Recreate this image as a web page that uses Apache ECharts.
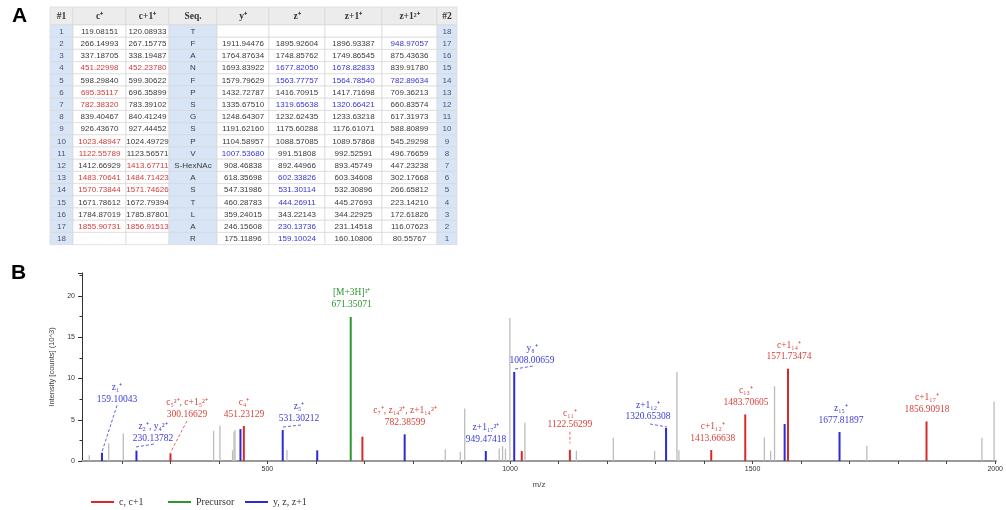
<!DOCTYPE html>
<html><head><meta charset="utf-8">
<script src="https://cdn.jsdelivr.net/npm/echarts@6/dist/echarts.min.js"></script>
<style>html,body{margin:0;padding:0;background:#fff}#c{width:1006px;height:510px}</style>
</head><body><div id="c"></div>
<script>
// ================= Panel A: fragment table =================
const headers = ['#1','c\u207A','c+1\u207A','Seq.','y\u207A','z\u207A','z+1\u207A','z+1\u00B2\u207A','#2'];
const rowNo1 = [1,2,3,4,5,6,7,8,9,10,11,12,13,14,15,16,17,18];
const seq = ['T','F','A','N','F','P','S','G','S','P','V','S-HexNAc','A','S','T','L','A','R'];
const cIons = ['119.08151','266.14993','337.18705','451.22998','598.29840','695.35117','782.38320','839.40467','926.43670','1023.48947','1122.55789','1412.66929','1483.70641','1570.73844','1671.78612','1784.87019','1855.90731',''];
const c1Ions = ['120.08933','267.15775','338.19487','452.23780','599.30622','696.35899','783.39102','840.41249','927.44452','1024.49729','1123.56571','1413.67711','1484.71423','1571.74626','1672.79394','1785.87801','1856.91513',''];
const yIons = ['','1911.94476','1764.87634','1693.83922','1579.79629','1432.72787','1335.67510','1248.64307','1191.62160','1104.58957','1007.53680','908.46838','618.35698','547.31986','460.28783','359.24015','246.15608','175.11896'];
const zIons = ['','1895.92604','1748.85762','1677.82050','1563.77757','1416.70915','1319.65638','1232.62435','1175.60288','1088.57085','991.51808','892.44966','602.33826','531.30114','444.26911','343.22143','230.13736','159.10024'];
const z1Ions = ['','1896.93387','1749.86545','1678.82833','1564.78540','1417.71698','1320.66421','1233.63218','1176.61071','1089.57868','992.52591','893.45749','603.34608','532.30896','445.27693','344.22925','231.14518','160.10806'];
const z12Ions = ['','948.97057','875.43636','839.91780','782.89634','709.36213','660.83574','617.31973','588.80899','545.29298','496.76659','447.23238','302.17668','266.65812','223.14210','172.61826','116.07623','80.55767'];
const rowNo2 = [18,17,16,15,14,13,12,11,10,9,8,7,6,5,4,3,2,1];
// rows (1-based) whose ion was matched in the spectrum
const cMatch = [4,6,7,10,11,13,14,17];
const c1Match = [4,12,13,14,17];
const yMatch = [11];
const zMatch = [4,5,7,13,14,15,17,18];
const z1Match = [4,5,7];
const z12Match = [2,5];

// ================= Panel B: spectrum =================
const otherPeaks = [[133,0.7],[173,2.14],[203,3.35],[389,3.67],[402,4.28],[428,1.3],[431,3.55],[433,3.75],[540,1.33],[866,1.41],[897,1.13],[906,6.38],[977,1.53],[984,1.8],[990,1.5],[999,17.35],[1030,4.64],[1136,1.25],[1212,2.82],[1297,1.21],[1343,10.8],[1347,1.3],[1523,2.86],[1536,1.25],[1544,9.08],[1734,1.82],[1971,2.82],[1996,7.18]];
const cPeaks = [[300.17,0.93],[451.23,4.24],[695.35,2.95],[1023.49,1.2],[1122.56,1.35],[1413.67,1.33],[1483.71,5.65],[1571.73,11.2],[1856.91,4.8]];
const precursorPeaks = [[671.35,17.47]];
const yzPeaks = [[159.10,1.0],[230.14,1.25],[444.27,3.87],[531.30,3.75],[602.34,1.29],[782.39,3.23],[949.47,1.21],[1008.01,10.8],[1320.65,4.0],[1564.79,4.48],[1677.82,3.51]];

const annoText = [
 'z\u2081\u207A\n159.10043',
 'z\u2082\u207A, y\u2084\u00B2\u207A\n230.13782',
 'c\u2085\u00B2\u207A, c+1\u2085\u00B2\u207A\n300.16629',
 'c\u2084\u207A\n451.23129',
 'z\u2085\u207A\n531.30212',
 '[M+3H]\u00B3\u207A\n671.35071',
 'c\u2087\u207A, z\u2081\u2084\u00B2\u207A, z+1\u2081\u2084\u00B2\u207A\n782.38599',
 'z+1\u2081\u2087\u00B2\u207A\n949.47418',
 'y\u2088\u207A\n1008.00659',
 'c\u2081\u2081\u207A\n1122.56299',
 'z+1\u2081\u2082\u207A\n1320.65308',
 'c+1\u2081\u2082\u207A\n1413.66638',
 'c\u2081\u2083\u207A\n1483.70605',
 'c+1\u2081\u2084\u207A\n1571.73474',
 'z\u2081\u2085\u207A\n1677.81897',
 'c+1\u2081\u2087\u207A\n1856.90918'
];
const annoGroup = ['y','y','c','c','y','p','c','y','y','c','y','c','c','c','y','c'];

// ---------- layout (positions / styles) ----------
const colW = [23,53,43,48,52,56,57,55,20];
const headerH = 18, rowH = 12.2;
const annoPos = [[190.1,8.19],[264.2,3.46],[334.2,6.37],[451.6,6.37],[564.8,5.88],[673.3,19.7],[783.1,5.40],[949.9,3.33],[1044.6,12.92],[1122.8,5.09],[1283.4,6.04],[1416.7,3.48],[1485.2,7.82],[1573.8,13.34],[1680.8,5.64],[1857.9,6.97]];
const leaders = [
 {g:'y', p:[190.1,6.75,159.1,1.1]},
 {g:'y', p:[229.2,1.70,266.3,2.06]},
 {g:'c', p:[334.2,4.85,300.2,1.05]},
 {g:'y', p:[531.9,4.12,569.0,4.37]},
 {g:'y', p:[1009.6,11.16,1046.7,11.52]},
 {g:'c', p:[1122.6,3.55,1122.6,2.15]},
 {g:'y', p:[1287.6,4.49,1322.6,4.12]}
];
const RED = '#d62a2a', GREEN = '#2e962e', BLUE = '#2a2ad6', GRAY = '#bcbcbc';
const TXT = {c:'#d8423a', p:'#2f952f', y:'#3a3ad8'};

// ---------- build table cells ----------
const columns = [rowNo1,cIons,c1Ions,seq,yIons,zIons,z1Ions,z12Ions,rowNo2];
const matches = [null,cMatch,c1Match,null,yMatch,zMatch,z1Match,z12Match,null];
const matchCol = [null,'#d43a3a','#d43a3a',null,'#3434d4','#3434d4','#3434d4','#3434d4',null];
const colStart = [0]; colW.forEach((w,i)=>colStart.push(colStart[i]+w));
const rowStart = [0, headerH]; for (let i=1;i<=18;i++) rowStart.push(headerH + i*rowH);
const cellData = [], cellText = [], cellFill = [], cellColor = [], cellFont = [];
for (let r=0;r<=18;r++){
  for (let c=0;c<9;c++){
    cellData.push([c,r]);
    if (r===0){
      cellText.push(headers[c]); cellFill.push('#ececec'); cellColor.push('#333');
      cellFont.push('bold 9.5px "Liberation Serif"');
    } else {
      const v = columns[c][r-1];
      cellText.push(String(v));
      const blueCol = (c===0||c===3||c===8);
      cellFill.push(blueCol ? '#d7e5f6' : '#ffffff');
      let col = (c===0||c===8) ? '#4a5570' : '#3a3a3a';
      if (matches[c] && matches[c].indexOf(r)>=0) col = matchCol[c];
      cellColor.push(col);
      cellFont.push('8px "Liberation Sans"');
    }
  }
}

function peakRender(w){
  return function(params, api){
    const t = api.coord([api.value(0), api.value(1)]);
    const b = api.coord([api.value(0), 0]);
    return {type:'line', shape:{x1:t[0],y1:t[1],x2:b[0],y2:b[1]}, style:{stroke:api.visual('color'), lineWidth:w}};
  };
}

const chart = echarts.init(document.getElementById('c'));
chart.setOption({
  animation:false,
  backgroundColor:'#fff',
  grid:[
    {left:50, top:7, width:407, height:headerH+18*rowH},
    {left:82, top:273, width:914, height:188},
    {left:82+82*0.48565, top:273, right:10, height:188}
  ],
  xAxis:[
    {gridIndex:0, type:'value', min:0, max:colStart[9], show:false},
    {gridIndex:1, type:'value', min:118, max:2000, axisLine:{show:true, lineStyle:{color:'#9a9a9a', width:2}},
     axisTick:{show:false}, axisLabel:{show:false}, splitLine:{show:false},
     name:'m/z', nameLocation:'middle', nameGap:20, nameTextStyle:{fontSize:8, color:'#444', fontFamily:'Liberation Sans'}},
    {gridIndex:2, type:'value', min:200, max:2000, interval:100,
     axisLine:{show:false}, axisTick:{show:true, length:3, lineStyle:{color:'#444'}},
     axisLabel:{fontSize:7, color:'#333', margin:5, fontFamily:'Liberation Sans', formatter:v=> v%500===0 ? String(v) : ''},
     splitLine:{show:false}}
  ],
  yAxis:[
    {gridIndex:0, type:'value', min:0, max:rowStart[19], inverse:true, show:false},
    {gridIndex:1, type:'value', min:0, max:22.8, interval:5,
     axisLine:{show:true, lineStyle:{color:'#333', width:1}},
     axisTick:{show:true, length:4, lineStyle:{color:'#333'}},
     minorTick:{show:true, splitNumber:2, length:2.5, lineStyle:{color:'#333'}},
     axisLabel:{fontSize:7, color:'#333', margin:7, showMaxLabel:false, fontFamily:'Liberation Sans'},
     splitLine:{show:false},
     name:'Intensity [counts] (10^3)', nameLocation:'middle', nameGap:19,
     nameTextStyle:{fontSize:7.5, color:'#444', fontFamily:'Liberation Sans'}},
    {gridIndex:2, type:'value', min:0, max:22.8, show:false}
  ],
  legend:[
    {data:[{name:'c, c+1', icon:'rect'}], left:86, top:492, itemWidth:23, itemHeight:2, selectedMode:false, textStyle:{fontFamily:'Liberation Serif', fontSize:10, color:'#333'}},
    {data:[{name:'Precursor', icon:'rect'}], left:163, top:492, itemWidth:23, itemHeight:2, selectedMode:false, textStyle:{fontFamily:'Liberation Serif', fontSize:10, color:'#333'}},
    {data:[{name:'y, z, z+1', icon:'rect'}], left:240, top:492, itemWidth:23, itemHeight:2, selectedMode:false, textStyle:{fontFamily:'Liberation Serif', fontSize:10, color:'#333'}}
  ],
  graphic:[
    {type:'text', left:12, top:6, style:{text:'A', font:'bold 21px "Liberation Sans"', fill:'#000'}},
    {type:'text', left:11, top:263, style:{text:'B', font:'bold 21px "Liberation Sans"', fill:'#000'}}
  ],
  series:[
    {type:'custom', name:'table', xAxisIndex:0, yAxisIndex:0, data:cellData, silent:true,
     renderItem:function(params, api){
       const i = params.dataIndex, c = api.value(0), r = api.value(1);
       const p0 = api.coord([colStart[c], rowStart[r]]);
       const p1 = api.coord([colStart[c+1], rowStart[r+1]]);
       return {type:'group', children:[
         {type:'rect', shape:{x:p0[0], y:p0[1], width:p1[0]-p0[0], height:p1[1]-p0[1]},
          style:{fill:cellFill[i], stroke:'#d9d9d9', lineWidth:0.7}},
         {type:'text', x:(p0[0]+p1[0])/2, y:(p0[1]+p1[1])/2+0.5,
          style:{text:cellText[i], fill:cellColor[i], font:cellFont[i], align:'center', verticalAlign:'middle'}}
       ]};
     }},
    {type:'custom', name:'other', xAxisIndex:1, yAxisIndex:1, data:otherPeaks, itemStyle:{color:GRAY}, renderItem:peakRender(1.3), silent:true, z:2},
    {type:'custom', name:'c, c+1', xAxisIndex:1, yAxisIndex:1, data:cPeaks, itemStyle:{color:RED}, renderItem:peakRender(2), silent:true, z:3},
    {type:'custom', name:'Precursor', xAxisIndex:1, yAxisIndex:1, data:precursorPeaks, itemStyle:{color:GREEN}, renderItem:peakRender(2), silent:true, z:3},
    {type:'custom', name:'y, z, z+1', xAxisIndex:1, yAxisIndex:1, data:yzPeaks, itemStyle:{color:BLUE}, renderItem:peakRender(2), silent:true, z:3},
    {type:'custom', name:'leaders', xAxisIndex:1, yAxisIndex:1, data:leaders.map(l=>l.p), silent:true, z:4,
     renderItem:function(params, api){
       const a = api.coord([api.value(0), api.value(1)]), b = api.coord([api.value(2), api.value(3)]);
       return {type:'line', shape:{x1:a[0],y1:a[1],x2:b[0],y2:b[1]},
         style:{stroke:TXT[leaders[params.dataIndex].g], lineWidth:0.8, lineDash:[3,2]}};
     }},
    {type:'custom', name:'labels', xAxisIndex:1, yAxisIndex:1, data:annoPos, silent:true, z:5,
     renderItem:function(params, api){
       const p = api.coord([api.value(0), api.value(1)]);
       const i = params.dataIndex;
       return {type:'text', x:p[0], y:p[1],
         style:{text:annoText[i], fill:TXT[annoGroup[i]], font:'9.5px "Liberation Serif"', align:'center', verticalAlign:'middle', lineHeight:11.5}};
     }}
  ]
});
</script></body></html>
